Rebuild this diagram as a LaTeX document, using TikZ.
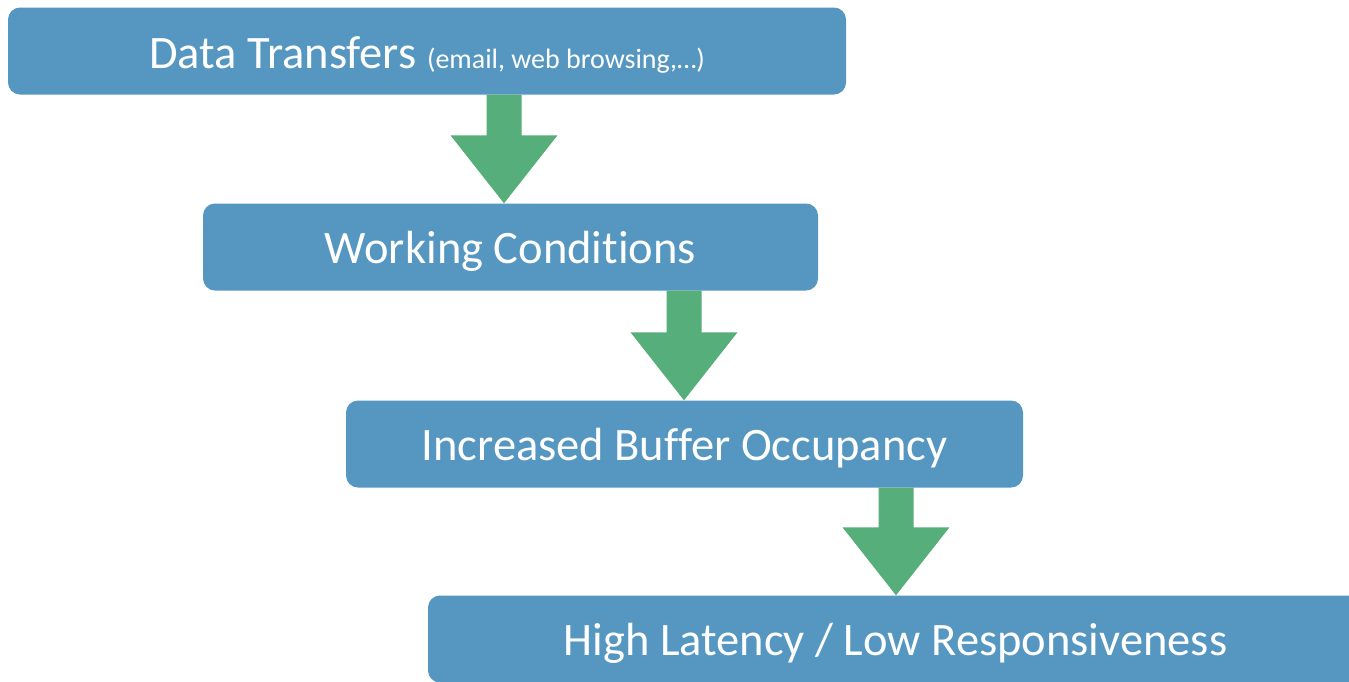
\documentclass[tikz,border=0pt]{standalone}
\usepackage{fontspec}
\setmainfont{Carlito}[Ligatures=NoCommon]
\usetikzlibrary{calc}
\definecolor{boxblue}{HTML}{5597C1}
\definecolor{arrgreen}{HTML}{56AE7A}
\tikzset{
  flowbox/.style={rectangle, rounded corners=12pt, fill=boxblue, text=white,
    minimum height=87pt, inner sep=0pt, font=\fontsize{46.5}{54}\selectfont},
  flowarrow/.style={fill=arrgreen}
}
\newcommand\boxtext[1]{\raisebox{-4pt}[\height][\depth]{#1}}
\newcommand\downarrowshape[3]{%
  \fill[flowarrow] ($(#1.south -| #3,0)+(-17.5,0)$) -- ($(#1.south -| #3,0)+(17.5,0)$)
    -- ($(#2.north -| #3,0)+(17.5,-68)$) -- ($(#2.north -| #3,0)+(53.5,-68)$)
    -- (#2.north -| #3,0) -- ($(#2.north -| #3,0)+(-53.5,-68)$)
    -- ($(#2.north -| #3,0)+(-17.5,-68)$) -- cycle;}
\begin{document}
\begin{tikzpicture}[x=1pt,y=-1pt]
\useasboundingbox (0,0) rectangle (1349,681);
\clip (0,0) rectangle (1349,681);
\node[flowbox, minimum width=838pt] (a) at (427,51) {\boxtext{Data Transfers {\fontsize{28}{32}\selectfont (email, web browsing,…)}}};
\node[flowbox, minimum width=615pt] (b) at (510.5,247) {\boxtext{Working Conditions}};
\node[flowbox, minimum width=677pt] (c) at (684.5,444) {\boxtext{Increased Buffer Occupancy}};
\node[flowbox, minimum width=935pt] (d) at (895.5,639) {\boxtext{High Latency / Low Responsiveness}};
\downarrowshape{a}{b}{504}
\downarrowshape{b}{c}{684}
\downarrowshape{c}{d}{896}
\end{tikzpicture}
\end{document}
